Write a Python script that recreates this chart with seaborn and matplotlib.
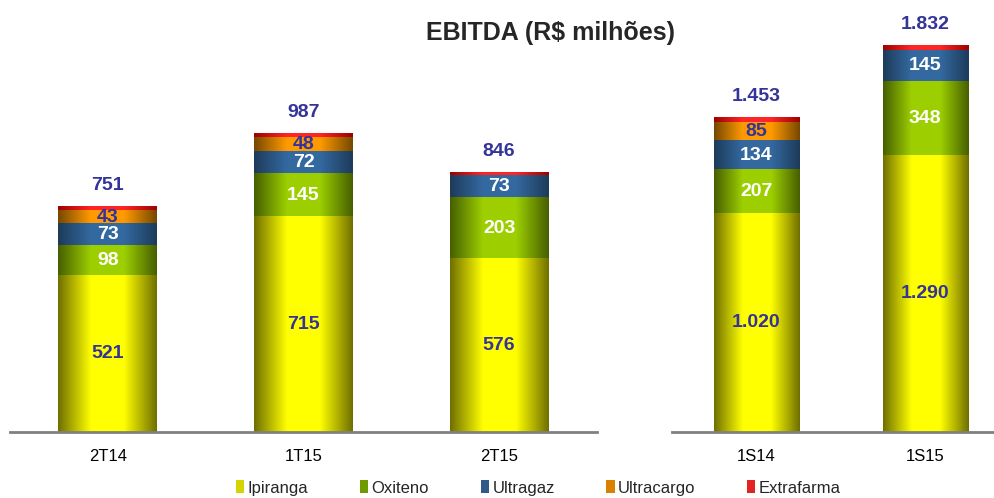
#!/usr/bin/env python3
import numpy as np
import pandas as pd
import seaborn as sns
import matplotlib.pyplot as plt
from matplotlib.colors import LinearSegmentedColormap
from matplotlib.patches import Patch

# values in R$ millions
periods = ['2T14', '1T15', '2T15', '1S14', '1S15']
panel = ['quarter', 'quarter', 'quarter', 'half', 'half']
ipiranga = [521, 715, 576, 1020, 1290]
oxiteno = [98, 145, 203, 207, 348]
ultragaz = [73, 72, 73, 134, 145]
ultracargo = [43, 48, 0, 85, 0]
extrafarma = [16, 12, 10, 23, 23]
totals = [751, 987, 846, 1453, 1832]

series_names = ['Ipiranga', 'Oxiteno', 'Ultragaz', 'Ultracargo', 'Extrafarma']
series_values = [ipiranga, oxiteno, ultragaz, ultracargo, extrafarma]

# (dark edge, bright centre) for the cylinder-like shading
shades = {
    'Ipiranga': ('#6f6f00', '#ffff00'),
    'Oxiteno': ('#465f00', '#9dcf00'),
    'Ultragaz': ('#1d3b5a', '#3469a0'),
    'Ultracargo': ('#764800', '#ff9a00'),
    'Extrafarma': ('#a00000', '#ff2525'),
}
legend_colors = ['#d4d400', '#6f9a00', '#2f5b8a', '#d98200', '#e52222']
label_colors = {'Ipiranga': '#333399', 'Oxiteno': 'white', 'Ultragaz': 'white',
                'Ultracargo': '#333399'}


def fmt(v):
    return f'{v:,}'.replace(',', '.')


df = pd.DataFrame({'period': periods, 'panel': panel})
for name, vals in zip(series_names, series_values):
    df[name] = vals

sns.set_style('white')
plt.rcParams['font.family'] = ['Liberation Sans', 'DejaVu Sans']

fig = plt.figure(figsize=(9.95, 4.98), dpi=100)
ax_q = fig.add_axes([10 / 995, 66 / 498, 587 / 995, 412 / 498])
ax_h = fig.add_axes([672 / 995, 66 / 498, 337.5 / 995, 412 / 498])

for ax, key, ymax in [(ax_q, 'quarter', 1370), (ax_h, 'half', 1925)]:
    sub = df[df['panel'] == key].reset_index(drop=True)
    n = len(sub)
    layers = []
    # draw cumulative stacks from the top segment down
    for k in range(len(series_names) - 1, -1, -1):
        cum = sub[series_names[:k + 1]].sum(axis=1)
        start = len(ax.patches)
        sns.barplot(x=sub['period'], y=cum, color=shades[series_names[k]][1],
                    width=0.505, saturation=1, errorbar=None, ax=ax)
        layers.append((series_names[k], ax.patches[start:start + n]))

    z = 2
    for name, patches in layers:
        cmap = LinearSegmentedColormap.from_list(
            name, [shades[name][0], shades[name][1], shades[name][1], shades[name][0]],
            N=256)
        grad = np.linspace(0, 1, 256).reshape(1, -1)
        for p in patches:
            x0, y0, w, h = p.get_x(), p.get_y(), p.get_width(), p.get_height()
            if h > 0:
                ax.imshow(grad, extent=(x0, x0 + w, y0, y0 + h), cmap=cmap,
                          aspect='auto', origin='lower', zorder=z,
                          interpolation='bilinear')
            p.set_visible(False)
        z += 1

    ax.set_xlim(-0.5, n - 0.5)
    ax.set_ylim(0, ymax)

    # segment labels
    for i in range(n):
        bottom = 0
        for name in series_names:
            v = sub.loc[i, name]
            if name in label_colors and v > 0:
                ax.text(i, bottom + v / 2, fmt(v), ha='center', va='center',
                        fontsize=14, fontweight='bold', color=label_colors[name],
                        zorder=20)
            bottom += v
        total = totals[periods.index(sub.loc[i, 'period'])]
        ax.annotate(fmt(total), (i, bottom), xytext=(0, 15),
                    textcoords='offset points', ha='center', va='center',
                    fontsize=14, fontweight='bold', color='#333399', zorder=20)

    for s in ['top', 'right', 'left']:
        ax.spines[s].set_visible(False)
    ax.spines['bottom'].set_color('#808080')
    ax.spines['bottom'].set_linewidth(2)
    ax.spines['bottom'].set_zorder(30)
    ax.set_yticks([])
    ax.set_xlabel('')
    ax.set_ylabel('')
    ax.tick_params(axis='x', length=0, pad=12, labelsize=12, colors='black')

fig.text(0.553, 0.934, 'EBITDA (R$ milhões)', ha='center', va='center',
         fontsize=18, fontweight='bold')

handles = [Patch(facecolor=c, edgecolor='none') for c in legend_colors]
fig.legend(handles, series_names, loc='center', bbox_to_anchor=(0.541, 0.02),
           ncol=5, frameon=False, fontsize=12, handlelength=0.5, handleheight=0.8,
           handletextpad=0.2, columnspacing=3.1)

fig.savefig('out.png', dpi=100)
